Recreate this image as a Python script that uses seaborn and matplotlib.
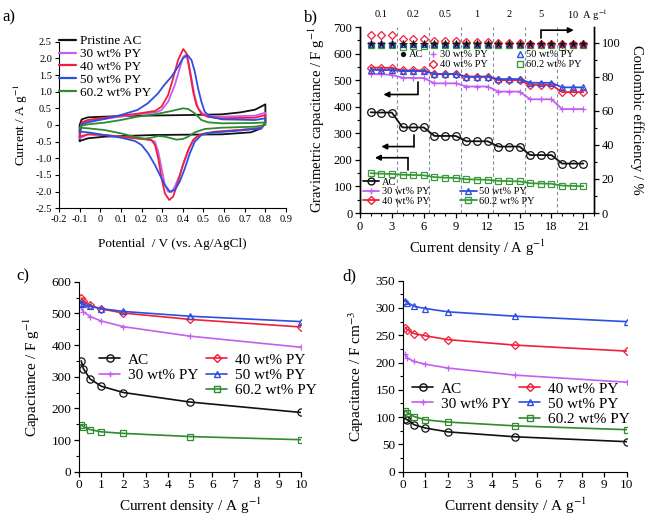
import matplotlib
matplotlib.use("Agg")
import matplotlib.pyplot as plt
import matplotlib.ticker as ticker
from matplotlib.lines import Line2D
import seaborn as sns

# 4パネル図：CV曲線 / レート特性 / 重量・体積容量

sns.set_style("ticks")
plt.rcParams["font.family"] = ["Liberation Serif", "DejaVu Serif"]
plt.rcParams["mathtext.fontset"] = "stix"
plt.rcParams["axes.unicode_minus"] = False
plt.rcParams["axes.edgecolor"] = "black"
plt.rcParams["xtick.color"] = "black"
plt.rcParams["ytick.color"] = "black"
plt.rcParams["text.color"] = "black"
plt.rcParams["axes.labelcolor"] = "black"

BLACK = "#111111"
PURPLE = "#c45ff0"
RED = "#f0203a"
BLUE = "#2d4fe0"
GREEN = "#2e8b2e"
GREEN_B = "#3a9a3a"

# ---- a) CV 曲線（電位 V, 電流 A/g）----
cv_labels = ["Pristine AC", "30 wt% PY", "40 wt% PY", "50 wt% PY", "60.2 wt% PY"]

ac_v = [-0.10, -0.10, -0.09, -0.06, 0.10, 0.43, 0.59, 0.68, 0.75, 0.80,
        0.80, 0.78, 0.73, 0.59, 0.26, 0.02, -0.06, -0.10]
ac_i = [-0.48, 0.00, 0.17, 0.23, 0.27, 0.30, 0.32, 0.38, 0.46, 0.62,
        0.08, -0.10, -0.22, -0.28, -0.30, -0.35, -0.40, -0.48]

py30_v = [-0.10, -0.09, -0.06, 0.10, 0.18, 0.27, 0.297, 0.329, 0.361, 0.385, 0.402, 0.413,
          0.426, 0.442, 0.458, 0.474, 0.498, 0.523, 0.59, 0.75, 0.80,
          0.80, 0.78, 0.68, 0.59, 0.51, 0.49, 0.458, 0.434, 0.41, 0.385, 0.361, 0.345,
          0.329, 0.313, 0.297, 0.281, 0.265, 0.248, 0.216, 0.10, 0.02, -0.06, -0.10]
py30_i = [-0.40, 0.05, 0.12, 0.25, 0.32, 0.38, 0.45, 0.70, 1.20, 1.70, 2.05, 2.10,
          1.95, 1.40, 0.85, 0.50, 0.33, 0.28, 0.25, 0.28, 0.37,
          0.08, -0.07, -0.15, -0.20, -0.26, -0.28, -0.40, -0.65, -1.05, -1.50, -1.85, -2.02,
          -2.00, -1.80, -1.30, -0.80, -0.50, -0.46, -0.42, -0.35, -0.30, -0.28, -0.40]

py40_v = [-0.10, -0.09, -0.06, 0.02, 0.10, 0.18, 0.265, 0.297, 0.329, 0.353, 0.377, 0.402,
          0.418, 0.434, 0.45, 0.466, 0.49, 0.523, 0.59, 0.75, 0.80,
          0.80, 0.78, 0.67, 0.555, 0.50, 0.474, 0.45, 0.426, 0.40, 0.377, 0.353, 0.334,
          0.313, 0.297, 0.281, 0.265, 0.248, 0.20, 0.10, 0.02, -0.06, -0.10]
py40_i = [-0.35, 0.08, 0.15, 0.22, 0.28, 0.34, 0.42, 0.55, 0.90, 1.40, 1.95, 2.28,
          2.15, 1.60, 1.00, 0.60, 0.33, 0.24, 0.20, 0.22, 0.30,
          0.05, -0.10, -0.15, -0.20, -0.26, -0.32, -0.45, -0.75, -1.20, -1.70, -2.15, -2.25,
          -2.05, -1.60, -1.00, -0.60, -0.45, -0.42, -0.35, -0.30, -0.28, -0.35]

py50_v = [-0.10, -0.09, -0.06, 0.02, 0.10, 0.18, 0.23, 0.28, 0.31, 0.345, 0.377, 0.40,
          0.423, 0.442, 0.458, 0.474, 0.49, 0.506, 0.531, 0.59, 0.75, 0.80,
          0.80, 0.78, 0.67, 0.555, 0.515, 0.49, 0.458, 0.434, 0.41, 0.385, 0.361, 0.337,
          0.313, 0.289, 0.265, 0.232, 0.20, 0.168, 0.10, 0.02, -0.06, -0.10]
py50_i = [-0.20, 0.02, 0.08, 0.18, 0.30, 0.45, 0.65, 0.95, 1.20, 1.45, 1.75, 2.00,
          2.10, 1.95, 1.60, 1.10, 0.70, 0.40, 0.25, 0.17, 0.15, 0.20,
          0.05, -0.10, -0.17, -0.22, -0.25, -0.30, -0.50, -0.85, -1.30, -1.70, -1.95, -2.00,
          -1.80, -1.50, -1.20, -0.85, -0.60, -0.48, -0.38, -0.30, -0.22, -0.20]

py60_v = [-0.10, -0.09, -0.06, 0.02, 0.10, 0.18, 0.265, 0.345, 0.40, 0.426, 0.458, 0.49,
          0.523, 0.59, 0.75, 0.80,
          0.80, 0.75, 0.59, 0.506, 0.458, 0.426, 0.40, 0.369, 0.345, 0.313, 0.281, 0.248,
          0.216, 0.184, 0.10, 0.02, -0.06, -0.10]
py60_i = [-0.08, -0.02, 0.02, 0.07, 0.15, 0.25, 0.32, 0.42, 0.50, 0.48, 0.35, 0.15,
          0.08, 0.05, 0.06, 0.08,
          0.00, -0.05, -0.08, -0.12, -0.22, -0.35, -0.42, -0.44, -0.40, -0.35, -0.33, -0.38,
          -0.41, -0.38, -0.25, -0.15, -0.10, -0.08]

cv_xticks = [-0.2, -0.1, 0.0, 0.1, 0.2, 0.3, 0.4, 0.5, 0.6, 0.7, 0.8, 0.9]
cv_yticks = [-2.5, -2.0, -1.5, -1.0, -0.5, 0.0, 0.5, 1.0, 1.5, 2.0, 2.5]

# ---- b) レート特性（サイクル番号ごと）----
cycle = list(range(1, 22))
cap_ac = [379, 378, 378, 322, 322, 322, 290, 290, 290, 270, 270, 270,
          250, 250, 250, 218, 218, 218, 186, 186, 186]
cap_30 = [523, 522, 520, 509, 508, 508, 488, 488, 488, 476, 476, 476,
          457, 457, 457, 428, 428, 428, 391, 391, 391]
cap_40 = [547, 547, 546, 537, 537, 537, 523, 523, 523, 513, 513, 513,
          500, 500, 500, 482, 482, 482, 455, 455, 455]
cap_50 = [539, 538, 538, 534, 534, 534, 523, 523, 523, 513, 513, 513,
          504, 504, 504, 490, 490, 490, 473, 473, 473]
cap_60 = [150, 148, 147, 144, 143, 142, 135, 133, 132, 127, 126, 125,
          121, 120, 119, 112, 111, 110, 103, 102, 101]

ce_ac = [99.4] * 21
ce_30 = [100.8, 100.8, 100.8, 100.2, 100.2, 100.2, 100.0, 100.0, 100.0, 100.0, 100.0, 100.0,
         99.8, 99.8, 99.8, 99.7, 99.7, 99.7, 99.6, 99.6, 99.6]
ce_40 = [104.7, 104.6, 104.6, 102.4, 102.4, 102.4, 101.2, 101.2, 101.2, 100.4, 100.4, 100.4,
         99.8, 99.8, 99.8, 99.6, 99.6, 99.6, 99.4, 99.4, 99.4]
ce_50 = [99.6] * 21
ce_60 = [98.6, 98.6, 98.6, 97.6, 98.5, 98.5, 99.0, 99.0, 99.0, 99.0, 99.0, 99.0,
         99.0, 99.0, 99.0, 99.0, 99.0, 99.0, 97.8, 99.0, 99.0]

rate_labels = ["0.1", "0.2", "0.5", "1", "2", "5"]
rate_centers = [2, 5, 8, 11, 14, 17]
rate_bounds = [3.5, 6.5, 9.5, 12.5, 15.5, 18.5]

# L字の矢印（縦線の始点 → 角 → 矢先）
arrows = [
    ((5.45, 494), (5.45, 446), (2.2, 446)),
    ((5.03, 293), (5.03, 250), (2.0, 250)),
    ((4.53, 162), (4.53, 208), (1.4, 208)),
    ((17.06, 658), (17.06, 688), (20.1, 688)),
]

# ---- c), d) 電流密度ごとの容量 ----
density = [0.1, 0.2, 0.5, 1, 2, 5, 10]
grav_ac = [350, 325, 293, 270, 250, 220, 187]
grav_30 = [520, 505, 490, 476, 458, 428, 393]
grav_40 = [548, 540, 525, 514, 501, 481, 457]
grav_50 = [532, 528, 522, 515, 506, 491, 474]
grav_60 = [148, 142, 133, 126, 121, 111, 101]

vol_ac = [97, 95, 86, 80, 73, 64, 55]
vol_30 = [215, 208, 202, 197, 190, 177, 164]
vol_40 = [264, 260, 253, 249, 242, 232, 221]
vol_50 = [313, 310, 303, 299, 293, 285, 275]
vol_60 = [112, 108, 101, 95, 91, 84, 77]

fig = plt.figure(figsize=(6.49, 5.2), dpi=100)


def px_axes(l, t, r, b):
    return fig.add_axes([l / 649, 1 - b / 520, (r - l) / 649, (b - t) / 520])


def fig_text(x, y, s, **kw):
    fig.text(x / 649, 1 - y / 520, s, **kw)


# ================= a) =================
ax_a = px_axes(59, 41.7, 286, 208.3)
cv_sets = [(ac_v, ac_i, BLACK), (py30_v, py30_i, PURPLE), (py40_v, py40_i, RED),
           (py50_v, py50_i, BLUE), (py60_v, py60_i, GREEN)]
for v, i, c in cv_sets:
    sns.lineplot(x=v, y=i, sort=False, estimator=None, color=c, lw=1.3, ax=ax_a)
ax_a.set_xlim(-0.2, 0.9)
ax_a.set_ylim(-2.5, 2.5)
ax_a.set_xticks(cv_xticks)
ax_a.set_yticks(cv_yticks)
fmt01 = ticker.FuncFormatter(lambda v, _: "0" if abs(v) < 1e-9 else f"{v:.1f}")
ax_a.xaxis.set_major_formatter(fmt01)
ax_a.yaxis.set_major_formatter(fmt01)
ax_a.tick_params(labelsize=7.5, length=3, width=0.8, pad=2)
sns.despine(ax=ax_a)
ax_a.set_xlabel("Potential  / V (vs. Ag/AgCl)", fontsize=9.5, labelpad=10)
ax_a.set_ylabel("Current / A g$^{-1}$", fontsize=9.5, labelpad=4)
ax_a.legend(handles=[Line2D([], [], color=c, lw=1.6) for _, _, c in cv_sets],
            labels=cv_labels, loc="upper left", bbox_to_anchor=(0.0, 1.04),
            frameon=False, fontsize=9.5, handlelength=1.3, handletextpad=0.3,
            labelspacing=0.05, borderpad=0, borderaxespad=0)

# ================= b) =================
ax_b = px_axes(360, 27, 594, 213)
ax_b2 = ax_b.twinx()
for xb in rate_bounds:
    ax_b.axvline(xb, ymin=0, ymax=1, color="#7d8ea3", ls=(0, (3, 2.5)), lw=0.8)

b_series = [
    (cap_ac, ce_ac, BLACK, "o", "AC"),
    (cap_30, ce_30, PURPLE, "+", "30 wt% PY"),
    (cap_40, ce_40, RED, "D", "40 wt% PY"),
    (cap_50, ce_50, BLUE, "^", "50 wt% PY"),
    (cap_60, ce_60, GREEN_B, "s", "60.2 wt% PY"),
]
msize = {"o": 5.5, "+": 4.5, "D": 4.2, "^": 4.8, "s": 4.6}
for cap, ce, c, m, lab in b_series:
    sns.lineplot(x=cycle, y=cap, color=c, lw=1.3, marker=m, ms=msize[m],
                 markerfacecolor="none", markeredgecolor=c, markeredgewidth=0.9, ax=ax_b)
for cap, ce, c, m, lab in [b_series[i] for i in (4, 1, 3, 2)]:
    sns.lineplot(x=cycle, y=ce, color=c, lw=0, linestyle="", marker=m, ms=msize[m],
                 markerfacecolor="none", markeredgecolor=c, markeredgewidth=0.9, ax=ax_b2)
sns.lineplot(x=cycle, y=ce_ac, color=BLACK, lw=0, linestyle="", marker="*", ms=5.5,
             markerfacecolor=BLACK, markeredgecolor=BLACK, markeredgewidth=0.5, ax=ax_b2)

ax_b.set_xlim(0, 22)
ax_b.set_ylim(0, 700)
ax_b2.set_ylim(0, 109.4)
ax_b.set_xticks(range(0, 22, 3))
ax_b.xaxis.set_minor_locator(ticker.MultipleLocator(1))
ax_b.set_yticks(range(0, 701, 100))
ax_b.yaxis.set_minor_locator(ticker.MultipleLocator(50))
ax_b2.set_yticks(range(0, 101, 20))
ax_b2.yaxis.set_minor_locator(ticker.MultipleLocator(10))
for a in (ax_b, ax_b2):
    a.tick_params(which="major", labelsize=9, length=3.5, width=0.9, pad=2)
    a.tick_params(which="minor", length=2, width=0.8)
    a.spines["top"].set_visible(False)
    a.spines["left"].set_linewidth(1.0)
    a.spines["right"].set_linewidth(1.0)
ax_b.set_xlabel("Current density / A g$^{-1}$", fontsize=10.5, labelpad=4)
ax_b.set_ylabel("Gravimetric capacitance / F g$^{-1}$", fontsize=10.5, labelpad=5)
ax_b2.set_ylabel("Coulombic efficiency / %", fontsize=10.5, rotation=270, labelpad=17)

for xc, lab in zip(rate_centers, rate_labels):
    ax_b.text(xc, 1.065, lab, transform=ax_b.get_xaxis_transform(), ha="center",
              va="center", fontsize=7.5)
ax_b.text(19.45, 1.065, "10  A g$^{-1}$", transform=ax_b.get_xaxis_transform(),
          ha="left", va="center", fontsize=7.5)

for start, corner, tip in arrows:
    ax_b.plot([start[0], corner[0]], [start[1], corner[1]], color="black", lw=1.2)
    ax_b.annotate("", xy=tip, xytext=corner,
                  arrowprops=dict(arrowstyle="-|>", color="black", lw=1.2,
                                  mutation_scale=8, shrinkA=0, shrinkB=0))

# 容量の凡例（下）
cap_handles = [Line2D([], [], color=c, lw=1.3, marker=m, ms=msize[m] * 0.9,
                      markerfacecolor="none", markeredgecolor=c) for _, _, c, m, _ in b_series]
blank = Line2D([], [], lw=0, alpha=0)
ax_b.legend(handles=[cap_handles[0], cap_handles[1], cap_handles[2], blank,
                     cap_handles[3], cap_handles[4]],
            labels=["AC", "30 wt% PY", "40 wt% PY", "", "50 wt% PY", "60.2 wt% PY"],
            ncol=2, loc="upper left", bbox_to_anchor=(0.012, 0.19), frameon=False,
            fontsize=7.5, handlelength=1.6, handletextpad=0.25, labelspacing=0.0,
            columnspacing=2.9, borderpad=0, borderaxespad=0)

# クーロン効率の凡例（上）
ce_handles = [Line2D([], [], lw=0, marker=m, ms=msize[m] * 0.9, markerfacecolor="none",
                     markeredgecolor=c) for _, _, c, m, _ in b_series]
ce_handles[0] = Line2D([], [], lw=0, marker="o", ms=2.8, color=BLACK)
lg2 = ax_b2.legend(handles=[ce_handles[0]], labels=["AC"], loc="upper left",
                   bbox_to_anchor=(0.17, 0.876), frameon=False, fontsize=7.5,
                   handlelength=0.6, handletextpad=0.3, borderpad=0, borderaxespad=0)
ax_b2.add_artist(lg2)
ax_b2.legend(handles=[ce_handles[1], ce_handles[2], ce_handles[3], ce_handles[4]],
             labels=["30 wt% PY", "40 wt% PY", "50 wt% PY", "60.2 wt% PY"], ncol=2,
             loc="upper left", bbox_to_anchor=(0.3, 0.876), frameon=False, fontsize=7.5,
             handlelength=0.6, handletextpad=0.3, labelspacing=0.05, columnspacing=2.8,
             borderpad=0, borderaxespad=0)

# ================= c), d) =================
cd_labels = ["AC", "30 wt% PY", "40 wt% PY", "50 wt% PY", "60.2 wt% PY"]
cd_colors = [BLACK, PURPLE, RED, BLUE, GREEN]
cd_markers = ["o", "+", "D", "^", "s"]
cd_ms = {"o": 5.2, "+": 4.0, "D": 3.8, "^": 4.5, "s": 4.2}


def rate_panel(ax, series, ymax, ystep, yminor, ylabel, leg_anchor, ylabelpad):
    for vals, c, m in zip(series, cd_colors, cd_markers):
        sns.lineplot(x=density, y=vals, color=c, lw=1.2, marker=m, ms=cd_ms[m],
                     markerfacecolor="none", markeredgecolor=c, markeredgewidth=0.9, ax=ax)
    ax.set_xlim(0, 10)
    ax.set_ylim(0, ymax)
    ax.set_xticks(range(0, 11))
    ax.set_yticks(range(0, ymax + 1, ystep))
    ax.yaxis.set_minor_locator(ticker.MultipleLocator(yminor))
    ax.tick_params(which="major", labelsize=9.5, length=3.5, width=0.9, pad=2)
    ax.tick_params(which="minor", length=2, width=0.8)
    sns.despine(ax=ax)
    ax.set_xlabel("Current density / A g$^{-1}$", fontsize=11, labelpad=3)
    ax.set_ylabel(ylabel, fontsize=11, labelpad=ylabelpad)
    hs = [Line2D([], [], color=c, lw=1.2, marker=m, ms=cd_ms[m], markerfacecolor="none",
                 markeredgecolor=c) for c, m in zip(cd_colors, cd_markers)]
    blank = Line2D([], [], lw=0, alpha=0)
    ax.legend(handles=[hs[0], hs[1], blank, hs[2], hs[3], hs[4]],
              labels=[cd_labels[0], cd_labels[1], "", cd_labels[2], cd_labels[3], cd_labels[4]],
              ncol=2, loc="upper left", bbox_to_anchor=leg_anchor, frameon=False,
              fontsize=11, handlelength=1.4, handletextpad=0.5, labelspacing=0.1,
              columnspacing=0.5, borderpad=0, borderaxespad=0)


ax_c = px_axes(79, 281.7, 301, 471.7)
rate_panel(ax_c, [grav_ac, grav_30, grav_40, grav_50, grav_60], 600, 100, 50,
           "Capacitance / F g$^{-1}$", (0.09, 0.625), 7)
ax_d = px_axes(403, 280.7, 626.7, 471.7)
rate_panel(ax_d, [vol_ac, vol_30, vol_40, vol_50, vol_60], 350, 50, 25,
           "Capacitance / F cm$^{-3}$", (0.04, 0.47), 6.5)

fig_text(2, 17, "a)", fontsize=12, va="center")
fig_text(304, 17, "b)", fontsize=12, va="center")
fig_text(16, 276, "c)", fontsize=12, va="center")
fig_text(342, 276, "d)", fontsize=12, va="center")

fig.savefig("out.png", dpi=100)
